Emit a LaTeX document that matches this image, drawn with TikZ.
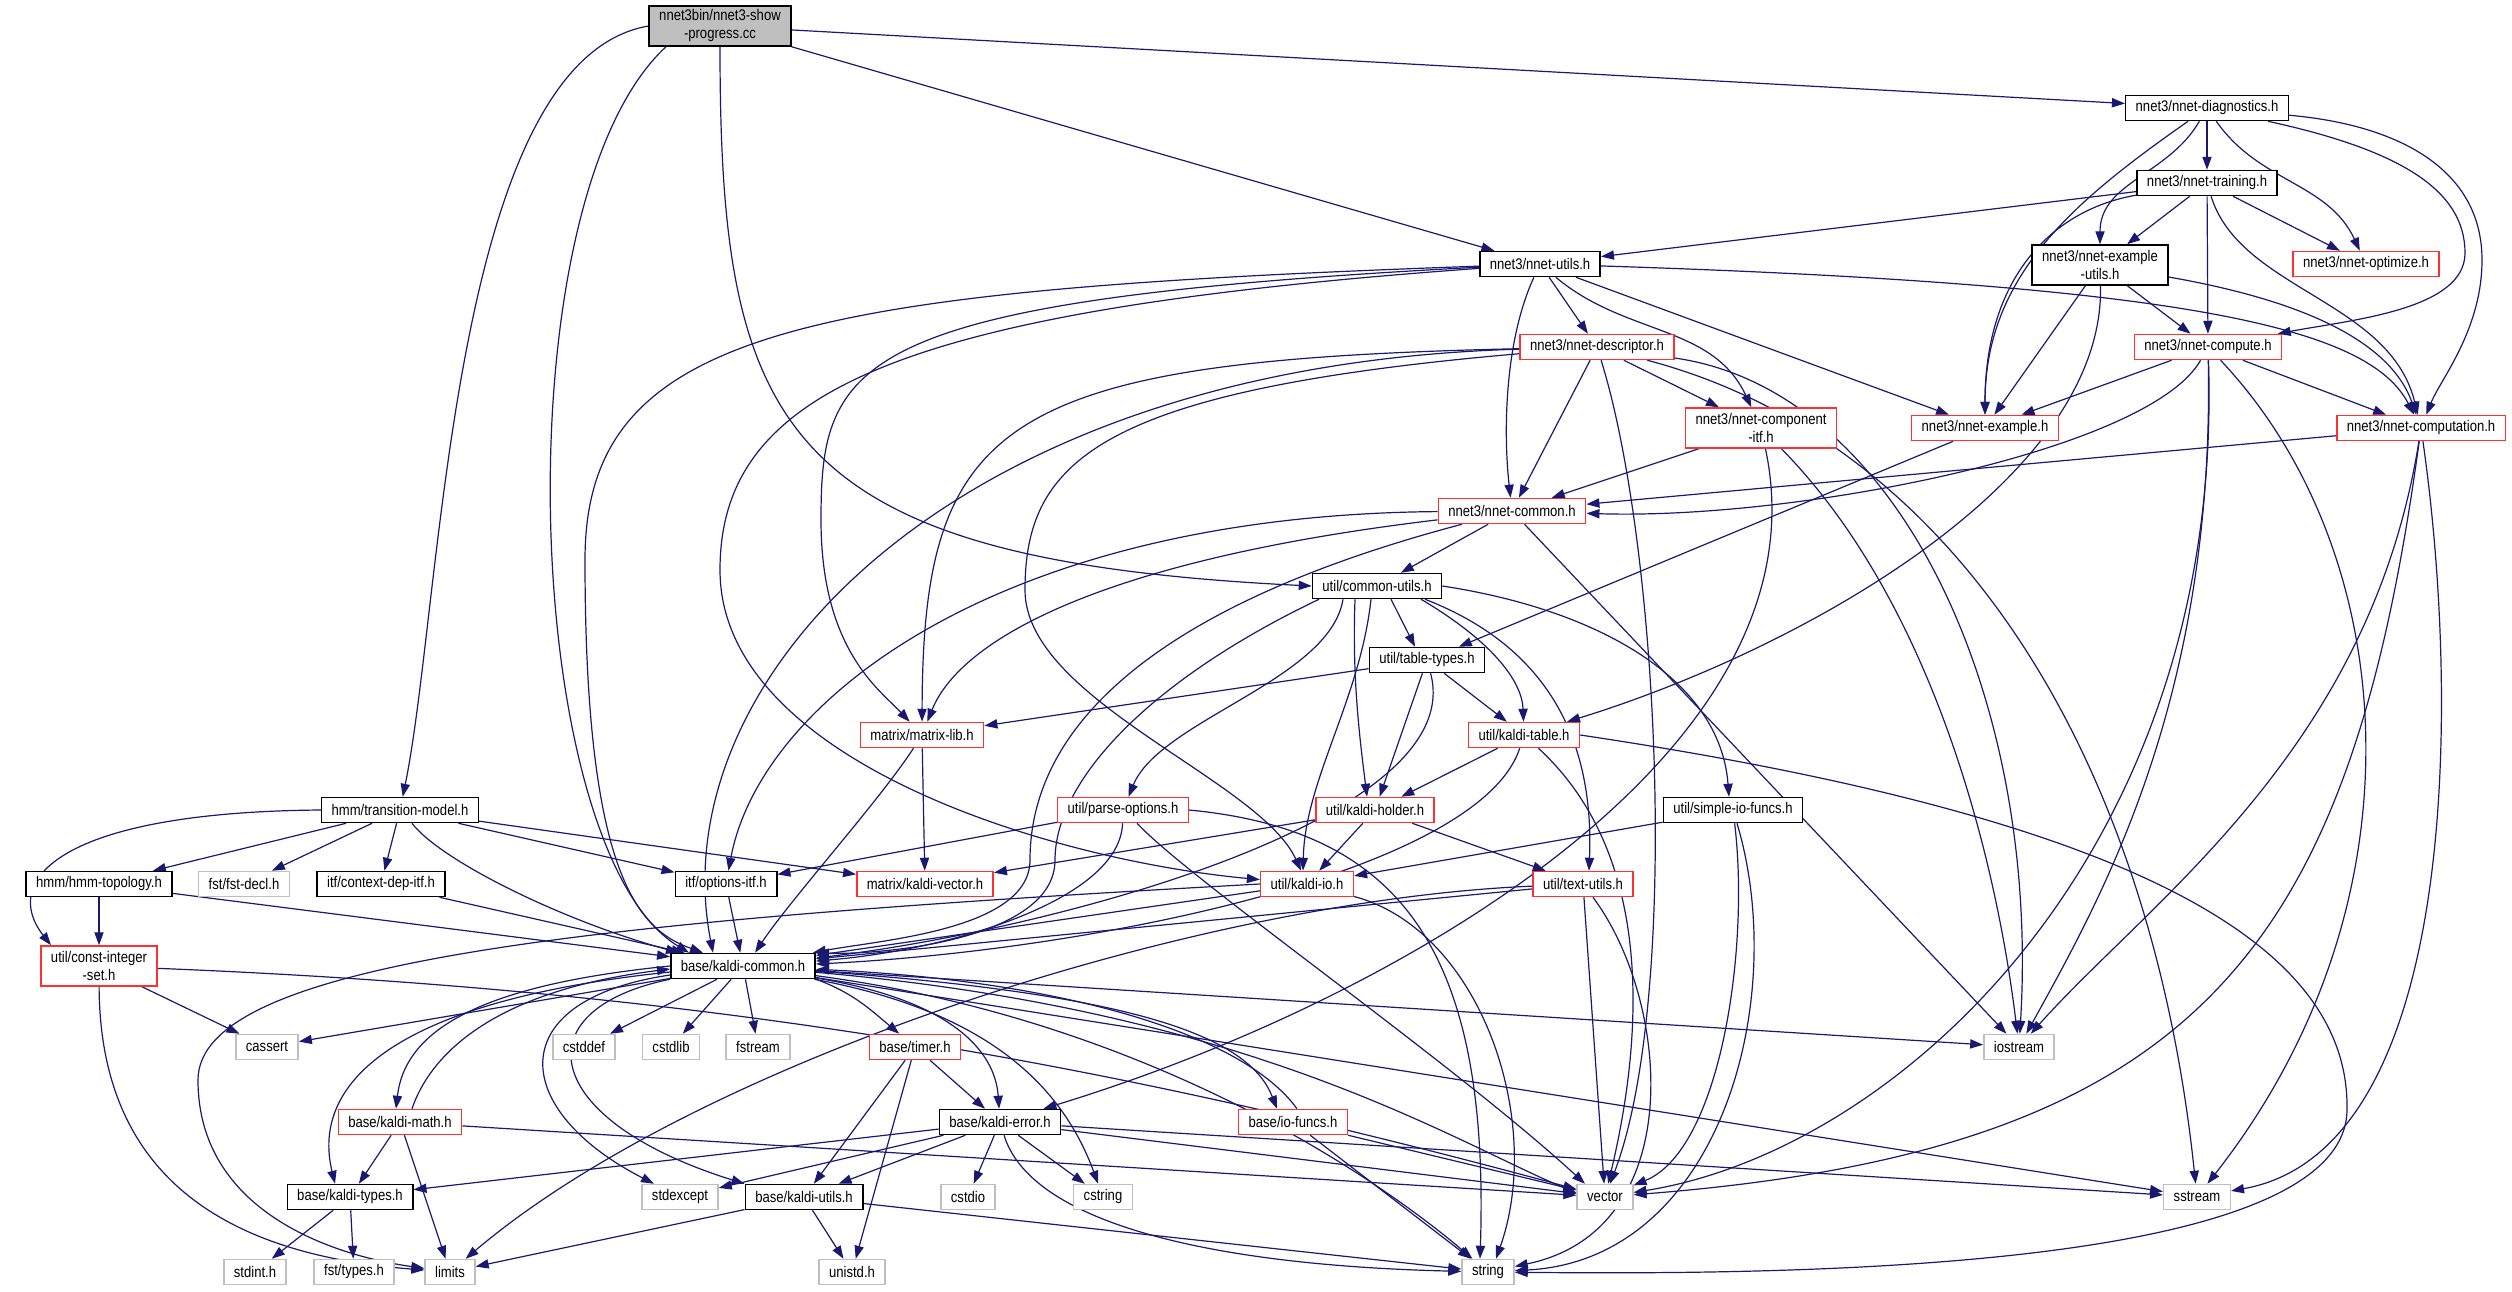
\documentclass[tikz,border=0pt]{standalone}
\usepackage{fontspec}
\setmainfont{Liberation Sans}[FakeStretch=0.85]
\usetikzlibrary{arrows.meta}
\definecolor{edgeblue}{HTML}{191970}
\definecolor{truncred}{HTML}{FF3030}
\definecolor{sysgray}{HTML}{BFBFBF}
\pgfdeclarelayer{edges}
\pgfsetlayers{edges,main}

\begin{document}
\begin{tikzpicture}[x=0.5pt, y=0.5pt,
    hdr/.style={draw=black, line width=0.75pt, fill=white, minimum height=12.5pt,
      inner xsep=5pt, inner ysep=1pt, font=\fontsize{7.7}{9}\selectfont},
    trunc/.style={hdr, draw=truncred},
    sys/.style={hdr, draw=sysgray},
    twoline/.style={align=center, minimum height=20pt},
    dep/.style={draw=edgeblue, line width=0.6pt, -{Triangle[length=6.5pt, width=4.6pt]}}]
        \useasboundingbox (0,0) rectangle (2512,-1291);
        \node[hdr, fill=sysgray, twoline] (show) at (720,-26) {nnet3bin/nnet3-show\\-progress.cc};
        \node[hdr] (diag) at (2207,-108) {nnet3/nnet-diagnostics.h};
        \node[hdr] (train) at (2207,-183) {nnet3/nnet-training.h};
        \node[hdr] (nutils) at (1540,-264) {nnet3/nnet-utils.h};
        \node[hdr, twoline] (exutils) at (2100,-265) {nnet3/nnet-example\\-utils.h};
        \node[trunc] (optim) at (2366,-264) {nnet3/nnet-optimize.h};
        \node[trunc] (descr) at (1597,-347) {nnet3/nnet-descriptor.h};
        \node[trunc] (compute) at (2208,-347) {nnet3/nnet-compute.h};
        \node[trunc, twoline] (compitf) at (1761,-428) {nnet3/nnet-component\\-itf.h};
        \node[trunc] (example) at (1985,-428) {nnet3/nnet-example.h};
        \node[trunc] (comptn) at (2421,-428) {nnet3/nnet-computation.h};
        \node[trunc] (ncommon) at (1512,-511) {nnet3/nnet-common.h};
        \node[hdr] (cutils) at (1377,-586) {util/common-utils.h};
        \node[hdr] (ttypes) at (1427,-660) {util/table-types.h};
        \node[trunc] (mlib) at (922,-735) {matrix/matrix-lib.h};
        \node[trunc] (ktable) at (1524,-735) {util/kaldi-table.h};
        \node[hdr] (trans) at (400,-810) {hmm/transition-model.h};
        \node[trunc] (popts) at (1123,-810) {util/parse-options.h};
        \node[trunc] (kholder) at (1375,-810) {util/kaldi-holder.h};
        \node[hdr] (sio) at (1733,-810) {util/simple-io-funcs.h};
        \node[hdr] (topo) at (99,-884) {hmm/hmm-topology.h};
        \node[sys] (fstdecl) at (244,-884) {fst/fst-decl.h};
        \node[hdr] (ctxdep) at (381,-884) {itf/context-dep-itf.h};
        \node[hdr] (optitf) at (726,-884) {itf/options-itf.h};
        \node[trunc] (kvector) at (925,-884) {matrix/kaldi-vector.h};
        \node[trunc] (kio) at (1307,-884) {util/kaldi-io.h};
        \node[trunc] (tutils) at (1583,-884) {util/text-utils.h};
        \node[trunc, twoline] (cis) at (99,-966) {util/const-integer\\-set.h};
        \node[hdr] (kcommon) at (743,-966) {base/kaldi-common.h};
        \node[sys] (cassert) at (267,-1047) {cassert};
        \node[sys] (cstddef) at (584,-1047) {cstddef};
        \node[sys] (cstdlib) at (671,-1047) {cstdlib};
        \node[sys] (fstream) at (758,-1047) {fstream};
        \node[trunc] (timer) at (915,-1047) {base/timer.h};
        \node[sys] (iostream) at (2019,-1047) {iostream};
        \node[trunc] (kmath) at (400,-1122) {base/kaldi-math.h};
        \node[hdr] (kerror) at (1000,-1122) {base/kaldi-error.h};
        \node[trunc] (iofuncs) at (1293,-1122) {base/io-funcs.h};
        \node[hdr] (ktypes) at (350,-1197) {base/kaldi-types.h};
        \node[sys] (stdexcept) at (680,-1197) {stdexcept};
        \node[hdr] (kutils) at (804,-1197) {base/kaldi-utils.h};
        \node[sys] (cstdio) at (968,-1197) {cstdio};
        \node[sys] (cstring) at (1103,-1197) {cstring};
        \node[sys] (vector) at (1605,-1197) {vector};
        \node[sys] (sstream) at (2197,-1197) {sstream};
        \node[sys] (stdint) at (255,-1272) {stdint.h};
        \node[sys] (fsttypes) at (354,-1272) {fst/types.h};
        \node[sys] (limits) at (450,-1272) {limits};
        \node[sys] (unistd) at (852,-1272) {unistd.h};
        \node[sys] (string) at (1488,-1272) {string};
        \begin{pgfonlayer}{edges}
        % the program
        \draw[dep] (show.west) .. controls (450,-60) and (443,-600) .. (trans);
        \draw[dep] ([xshift=-27pt]show.south) .. controls (500,-200) and (520,-850) .. ([xshift=-27pt]kcommon.north);
        \draw[dep] (show.south) .. controls (720,-430) and (780,-560) .. (cutils.west);
        \draw[dep] (show) -- (nutils);
        \draw[dep] (show) -- (diag);
        % nnet3 headers
        \draw[dep] (diag) -- (train);
        \draw[dep] (diag) to[out=-120, in=90] (exutils);
        \draw[dep] (diag) to[out=-145, in=90] (example);
        \draw[dep] (diag) to[out=-55, in=115] (optim);
        \draw[dep] (diag) .. controls (2400,-150) and (2465,-190) .. (2465,-253) .. controls (2465,-310) and (2350,-320) .. (compute);
        \draw[dep] (diag) .. controls (2400,-125) and (2482,-170) .. (2482,-260) .. controls (2482,-330) and (2440,-380) .. (comptn);
        \draw[dep] (train) -- (nutils);
        \draw[dep] (train) .. controls (2050,-210) and (1985,-280) .. (example);
        \draw[dep] (train) -- (exutils);
        \draw[dep] (train) -- (compute);
        \draw[dep] (train) .. controls (2240,-290) and (2390,-300) .. (comptn);
        \draw[dep] (train) -- (optim);
        \draw[dep] (exutils) -- (example);
        \draw[dep] (exutils) -- (compute);
        \draw[dep] (exutils) .. controls (2300,-300) and (2390,-340) .. (comptn);
        \draw[dep] (exutils) .. controls (2105,-480) and (1800,-650) .. (ktable);
        \draw[dep] (nutils) .. controls (1505,-340) and (1503,-430) .. (ncommon);
        \draw[dep] (nutils) -- (descr);
        \draw[dep] (nutils) to[out=-40, in=115] (compitf);
        \draw[dep] (nutils) -- (example);
        \draw[dep] (nutils) .. controls (2200,-285) and (2370,-330) .. (comptn);
        \draw[dep] (nutils) .. controls (800,-290) and (585,-330) .. (585,-560) .. controls (585,-880) and (640,-930) .. ([xshift=-20pt]kcommon.north);
        \draw[dep] (nutils) .. controls (850,-300) and (821,-360) .. (821,-520) .. controls (821,-650) and (880,-690) .. (mlib);
        \draw[dep] (nutils) .. controls (900,-310) and (720,-390) .. (720,-570) .. controls (720,-760) and (1050,-860) .. (kio);
        \draw[dep] (descr) -- (ncommon);
        \draw[dep] (descr) -- (compitf);
        \draw[dep] (descr) .. controls (1900,-390) and (2040,-700) .. (iostream);
        \draw[dep] (descr) .. controls (1660,-550) and (1680,-1000) .. (vector);
        \draw[dep] (descr) .. controls (1950,-440) and (2150,-750) .. (sstream);
        \draw[dep] (descr) .. controls (950,-365) and (660,-680) .. ([xshift=-15pt]kcommon.north);
        \draw[dep] (descr) .. controls (1000,-360) and (923,-420) .. (mlib);
        \draw[dep] (descr) .. controls (1100,-390) and (1025,-460) .. (1025,-590) .. controls (1025,-700) and (1260,-780) .. (kio);
        \draw[dep] (compute) -- (example);
        \draw[dep] (compute) .. controls (2150,-450) and (1800,-520) .. (ncommon);
        \draw[dep] (compute) .. controls (2215,-700) and (2100,-900) .. (iostream);
        \draw[dep] (compute) .. controls (2225,-850) and (1900,-1150) .. (vector);
        \draw[dep] (compute) .. controls (2400,-550) and (2430,-900) .. (sstream);
        \draw[dep] (compute) -- (comptn);
        \draw[dep] (comptn) -- (ncommon);
        \draw[dep] (comptn) .. controls (2370,-750) and (2150,-900) .. (iostream);
        \draw[dep] (comptn) .. controls (2350,-950) and (2200,-1150) .. (vector);
        \draw[dep] (comptn) .. controls (2460,-700) and (2460,-1150) .. (sstream);
        \draw[dep] (compitf) -- (ncommon);
        \draw[dep] (compitf) .. controls (1930,-600) and (1995,-850) .. (iostream);
        \draw[dep] (compitf) .. controls (1830,-750) and (1400,-1000) .. (kerror);
        \draw[dep] (example) -- (ttypes);
        \draw[dep] (ncommon) -- (cutils);
        \draw[dep] (ncommon) .. controls (1100,-620) and (1030,-760) .. (1030,-860) .. controls (1030,-930) and (880,-940) .. (kcommon);
        \draw[dep] (ncommon) .. controls (1100,-560) and (960,-640) .. (mlib);
        \draw[dep] (ncommon) .. controls (1000,-515) and (760,-700) .. (optitf);
        \draw[dep] (ncommon) -- (iostream);
        % util headers
        \draw[dep] ([xshift=-29pt]cutils.south) .. controls (1150,-680) and (1055,-780) .. (1055,-860) .. controls (1055,-940) and (880,-955) .. (kcommon.north east);
        \draw[dep] ([xshift=-17pt]cutils.south) .. controls (1330,-680) and (1160,-720) .. (popts);
        \draw[dep] ([xshift=-11pt]cutils.south) .. controls (1352,-680) and (1360,-740) .. ([xshift=-4pt]kholder.north);
        \draw[dep] ([xshift=-3pt]cutils.south) .. controls (1360,-700) and (1305,-780) .. ([xshift=-2pt]kio.north);
        \draw[dep] ([xshift=7pt]cutils.south) -- ([xshift=-6pt]ttypes.north);
        \draw[dep] ([xshift=22pt]cutils.south) .. controls (1490,-640) and (1522,-680) .. (ktable);
        \draw[dep] ([xshift=24pt]cutils.south) .. controls (1530,-640) and (1595,-720) .. ([xshift=3pt]tutils.north);
        \draw[dep] (cutils.east) .. controls (1600,-610) and (1720,-680) .. ([xshift=-2pt]sio.north);
        \draw[dep] (ttypes) -- (mlib);
        \draw[dep] (ttypes) -- (kholder);
        \draw[dep] (ttypes) -- (ktable);
        \draw[dep] (ttypes) .. controls (1470,-820) and (1050,-930) .. ([yshift=4pt]kcommon.east);
        \draw[dep] (mlib) -- (kvector);
        \draw[dep] (mlib) .. controls (880,-800) and (790,-900) .. ([xshift=6pt]kcommon.north);
        \draw[dep] (ktable) -- (kholder);
        \draw[dep] (ktable) .. controls (1480,-870) and (1100,-950) .. ([yshift=1pt]kcommon.east);
        \draw[dep] (ktable) .. controls (1660,-860) and (1640,-1050) .. (vector);
        \draw[dep] (ktable.east) .. controls (2150,-820) and (2350,-950) .. (2347,-1110) .. controls (2345,-1270) and (1800,-1275) .. (string);
        \draw[dep] (trans.west) .. controls (60,-812) and (0,-880) .. ([xshift=-24pt]cis.north);
        \draw[dep] (trans) -- (topo);
        \draw[dep] (trans) -- (fstdecl);
        \draw[dep] (trans) -- (ctxdep);
        \draw[dep] ([xshift=6pt]trans.south) .. controls (440,-860) and (560,-920) .. ([xshift=-32pt]kcommon.north);
        \draw[dep] (trans) -- (optitf);
        \draw[dep] (trans) -- (kvector);
        \draw[dep] (popts) -- (optitf);
        \draw[dep] (popts) .. controls (1120,-900) and (950,-950) .. ([yshift=2.5pt]kcommon.east);
        \draw[dep] ([xshift=7pt]popts.south) .. controls (1190,-880) and (1450,-1060) .. ([xshift=-10pt]vector.north);
        \draw[dep] (popts.east) .. controls (1400,-830) and (1490,-950) .. ([xshift=-4pt]string.north);
        \draw[dep] (kholder) -- (kio);
        \draw[dep] (kholder) -- (tutils);
        \draw[dep] (kholder) -- (kvector);
        \draw[dep] (sio) -- (kio);
        \draw[dep] (sio) .. controls (1750,-950) and (1720,-1150) .. (vector);
        \draw[dep] (sio) .. controls (1790,-1000) and (1720,-1260) .. (string);
        \draw[dep] (topo) -- (cis);
        \draw[dep] (topo) -- (kcommon);
        \draw[dep] (ctxdep) -- (kcommon);
        \draw[dep] (optitf) -- (kcommon);
        \draw[dep] (kio) -- (kcommon);
        \draw[dep] (kio.west) .. controls (600,-920) and (198,-960) .. (198,-1080) .. controls (198,-1210) and (330,-1255) .. (limits);
        \draw[dep] (kio) .. controls (1480,-930) and (1545,-1120) .. ([xshift=4pt]string.north);
        \draw[dep] (tutils) -- (kcommon);
        \draw[dep] (tutils) .. controls (1200,-900) and (700,-1060) .. (limits);
        \draw[dep] (tutils) -- (vector);
        \draw[dep] (tutils) .. controls (1670,-1000) and (1690,-1230) .. (string);
        \draw[dep] (cis) -- (cassert);
        \draw[dep] (cis) .. controls (100,-1180) and (230,-1255) .. (limits);
        \draw[dep] (cis) .. controls (700,-990) and (1100,-1060) .. (vector);
        % base headers
        \foreach \t in {cassert, cstddef, cstdlib, fstream, iostream, sstream}
        \draw[dep] (kcommon) -- (\t);
        \draw[dep] (kcommon.south east) to[out=-20, in=140] (timer);
        \draw[dep] (kcommon.west) .. controls (480,-985) and (405,-1030) .. ([xshift=-2pt]kmath.north);
        \draw[dep] ([yshift=-3pt]kcommon.west) .. controls (400,-1000) and (310,-1080) .. ([xshift=-7.5pt]ktypes.north);
        \draw[dep] (kcommon.south west) .. controls (520,-1010) and (540,-1120) .. (kutils.north west);
        \draw[dep] ([yshift=-4.5pt]kcommon.west) .. controls (500,-1000) and (510,-1110) .. ([xshift=-13pt]stdexcept.north);
        \draw[dep] (kcommon) .. controls (950,-1000) and (995,-1050) .. (kerror);
        \draw[dep] (kcommon) .. controls (1150,-995) and (1250,-1040) .. ([xshift=-8pt]iofuncs.north);
        \draw[dep] (kcommon) .. controls (980,-1010) and (1060,-1080) .. (cstring);
        \draw[dep] (kcommon) .. controls (1150,-1020) and (1380,-1180) .. (string);
        \draw[dep] (kcommon) .. controls (1250,-1010) and (1450,-1140) .. ([yshift=2pt]vector.west);
        \draw[dep] ([xshift=6pt]kmath.north) .. controls (432,-1050) and (500,-990) .. ([yshift=-1.5pt]kcommon.west);
        \draw[dep] ([xshift=2pt]iofuncs.north) .. controls (1240,-1030) and (1050,-980) .. (kcommon);
        \foreach \t in {ktypes, limits, vector}
        \draw[dep] (kmath) -- (\t);
        \foreach \t in {ktypes, stdexcept, kutils, cstdio, cstring, vector, sstream}
        \draw[dep] (kerror) -- (\t);
        \draw[dep] (kerror) .. controls (1030,-1220) and (1200,-1265) .. (string);
        \foreach \t in {vector, string}
        \draw[dep] (iofuncs) -- (\t);
        \foreach \t in {limits, unistd, string}
        \draw[dep] (kutils) -- (\t);
        \foreach \t in {kerror, kutils, unistd}
        \draw[dep] (timer) -- (\t);
        \foreach \t in {stdint, fsttypes}
        \draw[dep] (ktypes) -- (\t);
        \end{pgfonlayer}
\end{tikzpicture}
\end{document}
